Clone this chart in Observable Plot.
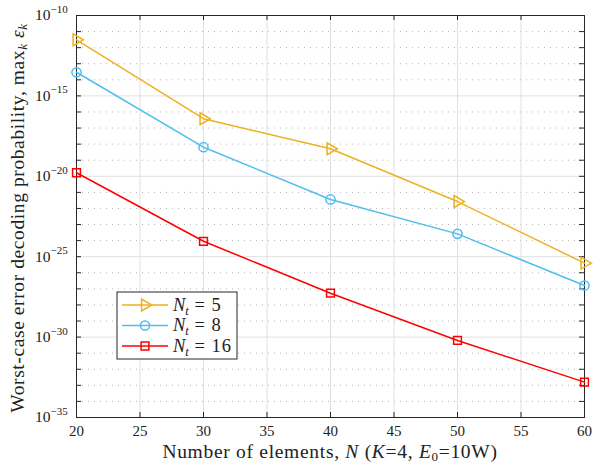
<!DOCTYPE html>
<html>
<head>
<meta charset="utf-8">
<script src="https://cdn.jsdelivr.net/npm/d3@7"></script>
<script src="https://cdn.jsdelivr.net/npm/@observablehq/plot@0.6"></script>
<style>
  html, body { margin: 0; padding: 0; background: #fff; }
  #chart { position: relative; width: 594px; height: 466px; }
</style>
</head>
<body>
<div id="chart"></div>
<script>
// ---- data ----
const N = [20, 30, 40, 50, 60];
const nt5  = [3.09e-12, 3.8e-17, 5.13e-19, 2.69e-22, 3.98e-26];
const nt8  = [2.95e-14, 6.46e-19, 3.63e-22, 2.63e-24, 1.62e-27];
const nt16 = [1.66e-20, 9.1e-25, 5.37e-28, 6.17e-31, 1.58e-33];
const seriesNt = ["5", "8", "16"];
const colors = ["#EDB120", "#4DBEEE", "#FF0000"];
const xTicks = [20, 25, 30, 35, 40, 45, 50, 55, 60];
const yExpMajor = [-35, -30, -25, -20, -15, -10];
const yExpAll = d3.range(-35, -9);

const W = 594, H = 466;
const mL = 76, mR = 10, mT = 15, mB = 49;
const innerW = W - mL - mR, innerH = H - mT - mB;
const FONT = "Liberation Serif";
const INK = "#262626";

const rows = [];
[nt5, nt8, nt16].forEach((arr, i) => arr.forEach((v, j) => rows.push({s: i, x: N[j], y: v})));

const yMajor = yExpMajor.map(e => Math.pow(10, e));
const yAll = yExpAll.map(e => Math.pow(10, e));
const yMinor = yExpAll.filter(e => e % 5 !== 0).map(e => Math.pow(10, e));
const yMajorInner = yExpMajor.slice(1, -1).map(e => Math.pow(10, e));
const xInner = xTicks.slice(1, -1);

const symbols = ["triangle", "circle", "square"];
const rot = [90, 0, 0];
const rr = [4.4, 4.6, 4.4];

const marks = [
  Plot.ruleY(yMinor, {y: d => d, stroke: "#b4b4b4", strokeDasharray: "1,5", strokeWidth: 1}),
  Plot.ruleY(yMajorInner, {y: d => d, stroke: "#e0e0e0", strokeWidth: 1}),
  Plot.ruleX(xInner, {x: d => d, stroke: "#e0e0e0", strokeWidth: 1}),
  // inward ticks
  Plot.tickY(yAll, {y: d => d, insetRight: innerW - 5, stroke: INK}),
  Plot.tickY(yAll, {y: d => d, insetLeft: innerW - 5, stroke: INK}),
  Plot.tickX(xTicks, {x: d => d, insetBottom: innerH - 5, stroke: INK}),
  Plot.tickX(xTicks, {x: d => d, insetTop: innerH - 5, stroke: INK}),
  Plot.frame({stroke: INK, strokeWidth: 1}),
  Plot.axisX(xTicks, {tickSize: 0, tickPadding: 8, fontSize: 15, label: null, fill: "#222"}),
  Plot.text(yMajor, {y: d => d, text: () => "10", frameAnchor: "left", textAnchor: "end", dx: -26, fontSize: 15.5, fill: "#222"}),
  Plot.text(yMajor, {y: d => d, text: d => "\u2212" + String(-Math.round(Math.log10(d))), frameAnchor: "left", textAnchor: "start", dx: -26, dy: -6, fontSize: 11, fill: "#222"})
];
[0, 1, 2].forEach(i => {
  const data = rows.filter(r => r.s === i);
  marks.push(Plot.line(data, {x: "x", y: "y", stroke: colors[i], strokeWidth: 1.5}));
  marks.push(Plot.dot(data, {x: "x", y: "y", symbol: symbols[i], r: rr[i], rotate: rot[i], stroke: colors[i], fill: "none", strokeWidth: 1.5}));
});

const chart = Plot.plot({
  width: W, height: H,
  marginLeft: mL, marginRight: mR, marginTop: mT, marginBottom: mB,
  style: {fontFamily: FONT, background: "#fff"},
  x: {domain: [20, 60], axis: null},
  y: {type: "log", domain: [1e-35, 1e-10], axis: null},
  marks
});

const svg = d3.select(chart);

// x label
const xl = svg.append("text")
  .attr("x", mL + innerW / 2).attr("y", 458)
  .attr("text-anchor", "middle").attr("font-size", 19.5).attr("letter-spacing", 0.7).attr("fill", "#222")
  .attr("font-family", FONT);
xl.append("tspan").text("Number of elements, ");
xl.append("tspan").attr("font-style", "italic").text("N");
xl.append("tspan").text(" (");
xl.append("tspan").attr("font-style", "italic").text("K");
xl.append("tspan").text("=4, ");
xl.append("tspan").attr("font-style", "italic").text("E");
xl.append("tspan").attr("font-size", 13).attr("dy", 3).text("0");
xl.append("tspan").attr("dy", -3).text("=10W)");

// y label
const yl = svg.append("text")
  .attr("transform", `translate(24,${mT + innerH / 2 + 2}) rotate(-90)`)
  .attr("text-anchor", "middle").attr("font-size", 19.5).attr("letter-spacing", 0.6).attr("fill", "#222")
  .attr("font-family", FONT);
yl.append("tspan").text("Worst-case error decoding probability, max");
yl.append("tspan").attr("font-size", 13).attr("dy", 3).attr("font-style", "italic").text("k");
yl.append("tspan").attr("dy", -3).text(" ");
yl.append("tspan").attr("font-style", "italic").text("\u03B5");
yl.append("tspan").attr("font-size", 13).attr("dy", 3).attr("font-style", "italic").text("k");

// legend
const lg = svg.append("g").attr("transform", "translate(117,292)");
lg.append("rect").attr("width", 120).attr("height", 67).attr("fill", "#fff").attr("stroke", INK).attr("stroke-width", 1);
seriesNt.forEach((nt, i) => {
  const cy = 13 + i * 20.5;
  lg.append("line").attr("x1", 5).attr("x2", 51).attr("y1", cy).attr("y2", cy)
    .attr("stroke", colors[i]).attr("stroke-width", 1.5);
  lg.append("path")
    .attr("d", d3.symbol(i === 0 ? d3.symbolTriangle : i === 1 ? d3.symbolCircle : d3.symbolSquare, Math.PI * rr[i] * rr[i])())
    .attr("transform", `translate(28,${cy}) rotate(${rot[i]})`)
    .attr("fill", "none").attr("stroke", colors[i]).attr("stroke-width", 1.5);
  const t = lg.append("text").attr("x", 56).attr("y", cy + 5.5).attr("text-anchor", "start")
    .attr("font-size", 18.5).attr("fill", "#222").attr("font-family", FONT);
  t.append("tspan").attr("font-style", "italic").text("N");
  t.append("tspan").attr("font-size", 12.5).attr("dy", 4).attr("font-style", "italic").text("t");
  t.append("tspan").attr("dy", -4).attr("letter-spacing", 1).text(" = " + nt);
});

document.getElementById("chart").appendChild(chart);
</script>
</body>
</html>
